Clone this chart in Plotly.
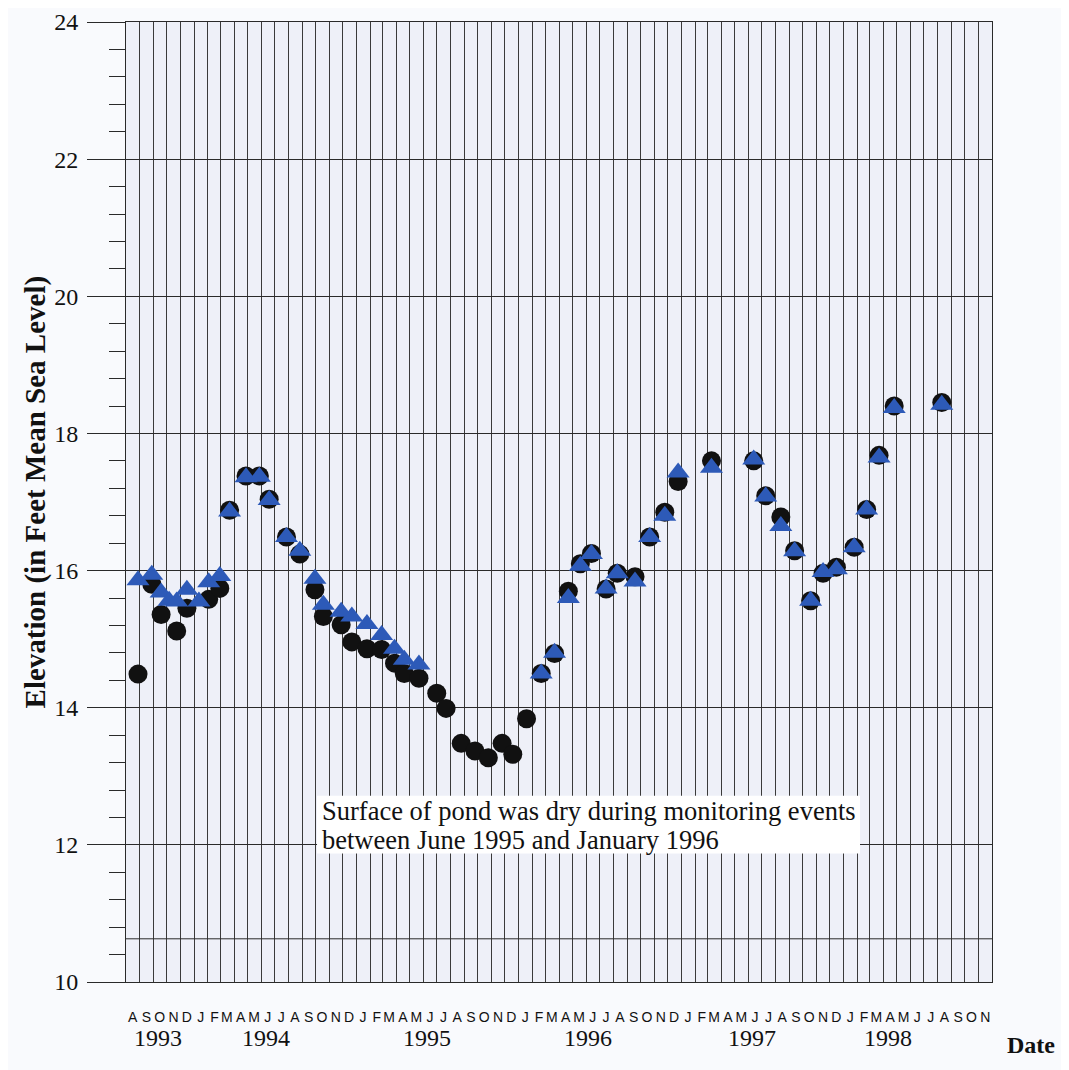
import plotly.graph_objects as go

# sampling dates and elevations (feet MSL)
circle_dates = ['1993-08-28', '1993-09-28', '1993-10-19', '1993-11-23', '1993-12-16',
                '1994-02-03', '1994-02-28', '1994-03-22', '1994-04-28', '1994-05-28',
                '1994-06-19', '1994-07-28', '1994-08-27', '1994-09-30', '1994-10-19',
                '1994-11-28', '1994-12-22', '1995-01-25', '1995-02-27', '1995-03-28',
                '1995-04-19', '1995-05-22', '1995-07-01', '1995-07-22', '1995-08-25',
                '1995-09-25', '1995-10-25', '1995-11-25', '1995-12-19', '1996-01-19',
                '1996-02-21', '1996-03-22', '1996-04-22', '1996-05-19', '1996-06-13',
                '1996-07-16', '1996-08-10', '1996-09-19', '1996-10-22', '1996-11-25',
                '1996-12-25', '1997-03-10', '1997-06-13', '1997-07-10', '1997-08-13',
                '1997-09-13', '1997-10-19', '1997-11-16', '1997-12-16', '1998-01-25',
                '1998-02-22', '1998-03-22', '1998-04-25', '1998-08-10']
circle_vals = [14.49, 15.80, 15.36, 15.12, 15.45,
               15.58, 15.74, 16.88, 17.38, 17.38,
               17.04, 16.49, 16.24, 15.72, 15.33,
               15.21, 14.96, 14.86, 14.85, 14.65,
               14.50, 14.43, 14.21, 13.99, 13.48,
               13.37, 13.27, 13.48, 13.32, 13.84,
               14.50, 14.79, 15.70, 16.10, 16.25,
               15.73, 15.96, 15.91, 16.49, 16.85,
               17.30, 17.60, 17.60, 17.09, 16.78,
               16.29, 15.56, 15.96, 16.05, 16.34,
               16.89, 17.68, 18.40, 18.45]

tri_dates = ['1993-08-28', '1993-09-28', '1993-10-19', '1993-11-06', '1993-11-23',
             '1993-12-16', '1994-01-12', '1994-02-03', '1994-02-28', '1994-03-22',
             '1994-04-28', '1994-05-28', '1994-06-19', '1994-07-28', '1994-08-27',
             '1994-09-30', '1994-10-19', '1994-11-28', '1994-12-22', '1995-01-25',
             '1995-02-27', '1995-03-28', '1995-04-19', '1995-05-22',
             '1996-02-21', '1996-03-22', '1996-04-22', '1996-05-19', '1996-06-13',
             '1996-07-16', '1996-08-10', '1996-09-19', '1996-10-22', '1996-11-25',
             '1996-12-25', '1997-03-10', '1997-06-13', '1997-07-10', '1997-08-13',
             '1997-09-13', '1997-10-19', '1997-11-16', '1997-12-16', '1998-01-25',
             '1998-02-22', '1998-03-22', '1998-04-25', '1998-08-10']
tri_vals = [15.86, 15.94, 15.68, 15.56, 15.55,
            15.72, 15.55, 15.83, 15.92, 16.86,
            17.36, 17.37, 17.03, 16.49, 16.29,
            15.88, 15.50, 15.40, 15.33, 15.22,
            15.06, 14.86, 14.70, 14.63,
            14.50, 14.80, 15.60, 16.07, 16.24,
            15.74, 15.96, 15.84, 16.49, 16.80,
            17.43, 17.50, 17.62, 17.08, 16.65,
            16.28, 15.56, 15.98, 16.02, 16.34,
            16.89, 17.65, 18.37, 18.42]

# month initials, Aug 1993 .. Nov 1998
month_letters = list('ASOND') + list('JFMAMJJASOND') * 4 + list('JFMAMJJASON')
month_mid = []
y, m = 1993, 8
for _ in month_letters:
    month_mid.append('%d-%02d-16' % (y, m))
    m += 1
    if m > 12:
        m, y = 1, y + 1

year_labels = ['1993', '1994', '1995', '1996', '1997', '1998']
year_label_at = ['1993-10-11', '1994-06-13', '1995-06-10', '1996-06-05', '1997-06-10', '1998-04-10']

note_lines = ['Surface of pond was dry during monitoring events',
              'between June 1995 and January 1996']

GRID = '#2a2a2a'
SERIF = 'Liberation Serif, Times New Roman, serif'
SANS = 'Liberation Sans, Arial, sans-serif'

fig = go.Figure()
fig.add_trace(go.Scatter(x=circle_dates, y=circle_vals, mode='markers',
                         marker=dict(symbol='circle', size=19, color='#111111'),
                         showlegend=False))
fig.add_trace(go.Scatter(x=tri_dates, y=tri_vals, mode='markers',
                         marker=dict(symbol='triangle-up', size=20, color='#2d5ab8'),
                         showlegend=False))

fig.update_xaxes(type='date', range=['1993-08-01', '1998-12-01'], automargin=False,
                 tickmode='array', tickvals=month_mid, ticktext=month_letters,
                 tickfont=dict(family=SANS, size=14, color='#111'),
                 ticks='', showgrid=False, ticklabelstandoff=22, ticklabeloverflow='allow',
                 showline=True, linecolor=GRID, linewidth=1, mirror=True,
                 minor=dict(dtick='M1', tick0='1993-08-01', showgrid=True,
                            gridcolor='#3a3a3a', gridwidth=1, ticks=''),
                 zeroline=False)
fig.update_yaxes(range=[10, 24], tickmode='linear', tick0=10, dtick=2, automargin=False,
                 tickfont=dict(family=SERIF, size=24, color='#111'),
                 ticks='outside', ticklen=38, tickcolor=GRID, tickwidth=1,
                 ticklabelstandoff=4, ticklabeloverflow='allow',
                 showgrid=True, gridcolor=GRID, gridwidth=1,
                 showline=True, linecolor=GRID, linewidth=1, mirror=True,
                 minor=dict(dtick=0.4, tick0=10, ticks='outside', ticklen=16,
                            tickcolor=GRID, showgrid=False),
                 zeroline=False)

# extra horizontal reference line near the bottom
fig.add_shape(type='line', xref='paper', x0=0, x1=1, yref='y', y0=10.63, y1=10.63,
              line=dict(color=GRID, width=1))

for lab, at in zip(year_labels, year_label_at):
    fig.add_annotation(x=at, xref='x', y=0, yref='paper', yshift=-56,
                       text=lab, showarrow=False, xanchor='center', yanchor='middle',
                       font=dict(family=SERIF, size=24, color='#111'))

fig.add_annotation(x=1.045, xref='paper', y=0, yref='paper', yshift=-63,
                   text='<b>Date</b>', showarrow=False, xanchor='center', yanchor='middle',
                   font=dict(family=SERIF, size=24, color='#111'))

fig.add_annotation(x=0, xref='paper', xshift=-91, y=0.51, yref='paper',
                   text='<b>Elevation (in Feet Mean Sea Level)</b>', textangle=-90,
                   showarrow=False, xanchor='center', yanchor='middle',
                   font=dict(family=SERIF, size=29, color='#111'))

# white note box over the grid
fig.add_shape(type='rect', xref='paper', yref='paper', x0=0.2206, x1=0.8476,
              y0=0.1338, y1=0.194, fillcolor='#ffffff', line=dict(width=0), layer='above')
for i, line in enumerate(note_lines):
    fig.add_annotation(x=0.224, xref='paper', y=0.1784 - i * 0.0301, yref='paper',
                       text=line, showarrow=False, xanchor='left', yanchor='middle',
                       font=dict(family=SERIF, size=26.5, color='#111'))

fig.update_layout(width=1061, height=1062,
                  margin=dict(l=118, r=77, t=14, b=88),
                  plot_bgcolor='#eef0f8', paper_bgcolor='#f9fafd',
                  showlegend=False)

fig.write_html('out.html')
